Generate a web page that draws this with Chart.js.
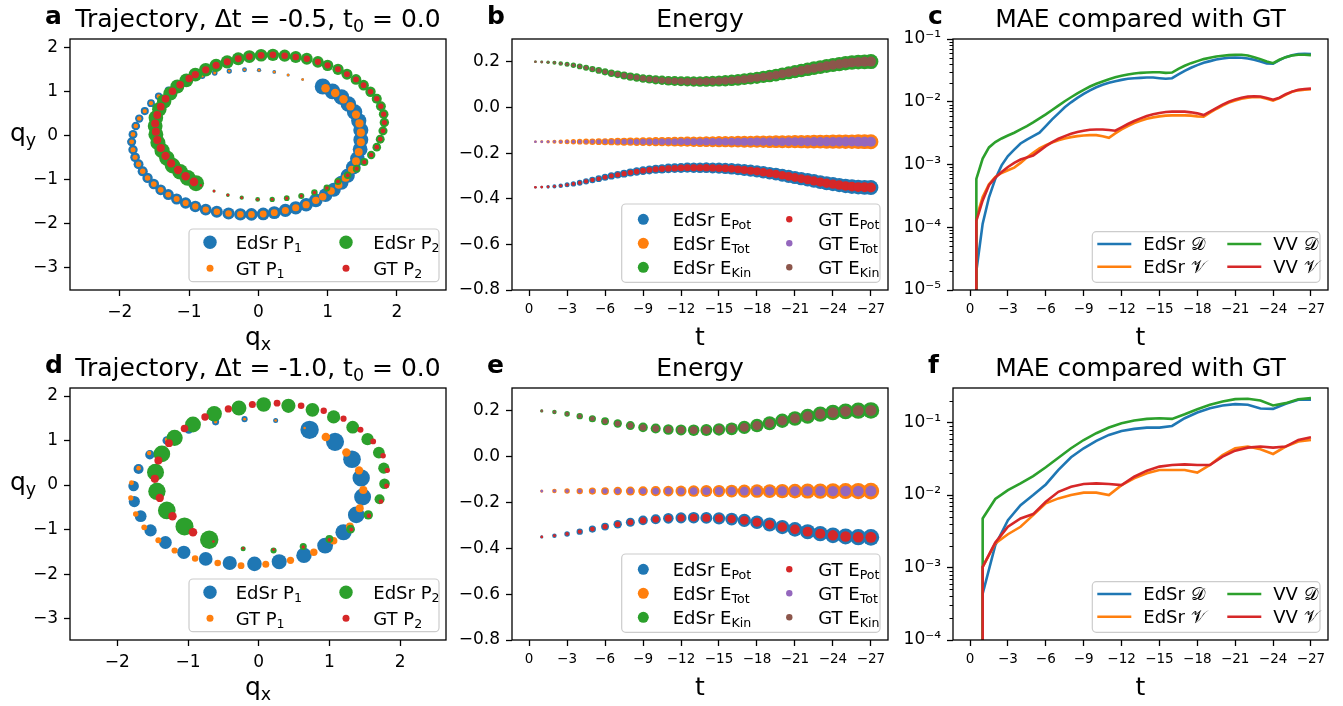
<!DOCTYPE html>
<html>
<head>
<meta charset="utf-8">
<script src="https://cdn.jsdelivr.net/npm/chart.js@4.4.1/dist/chart.umd.min.js"></script>
<style>
  html, body { margin: 0; padding: 0; background: #fff; }
  #fig { position: relative; width: 1343px; height: 706px; overflow: hidden; background: #fff; }
  .panel { position: absolute; }
</style>
</head>
<body>
<div id="fig"></div>
<script>
// ---- time steps of the two runs ----
const tHalf = [-0.5, -1, -1.5, -2, -2.5, -3, -3.5, -4, -4.5, -5, -5.5, -6, -6.5, -7, -7.5, -8, -8.5, -9, -9.5, -10,
  -10.5, -11, -11.5, -12, -12.5, -13, -13.5, -14, -14.5, -15, -15.5, -16, -16.5, -17, -17.5, -18, -18.5, -19, -19.5, -20,
  -20.5, -21, -21.5, -22, -22.5, -23, -23.5, -24, -24.5, -25, -25.5, -26, -26.5, -27];
const tWhole = [-1, -2, -3, -4, -5, -6, -7, -8, -9, -10, -11, -12, -13, -14, -15, -16, -17, -18, -19, -20,
  -21, -22, -23, -24, -25, -26, -27];

// ---- tick labels ----
const qTicksX = [-2, -1, 0, 1, 2];
const qTicksY = [2, 1, 0, -1, -2, -3];
const tTicks = [0, -3, -6, -9, -12, -15, -18, -21, -24, -27];
const energyTicks = [0.2, 0.0, -0.2, -0.4, -0.6, -0.8];
const maeTicksHalf = [1e-5, 1e-4, 1e-3, 1e-2, 1e-1];
const maeTicksWhole = [1e-4, 1e-3, 1e-2, 1e-1];

// ---- trajectories, dt = -0.5 ----
const edsrP1Half = [[0.64,1.27],[0.43,1.37],[0.23,1.44],[0.01,1.48],[-0.20,1.49],[-0.42,1.46],[-0.63,1.42],[-0.81,1.35],
  [-0.99,1.26],[-1.16,1.15],[-1.30,1.03],[-1.44,0.89],[-1.55,0.73],[-1.64,0.55],[-1.72,0.38],[-1.77,0.21],[-1.81,0.02],
  [-1.83,-0.15],[-1.81,-0.33],[-1.78,-0.50],[-1.73,-0.66],[-1.67,-0.82],[-1.60,-0.97],[-1.51,-1.11],[-1.41,-1.24],
  [-1.30,-1.35],[-1.18,-1.45],[-1.05,-1.54],[-0.91,-1.62],[-0.76,-1.69],[-0.60,-1.74],[-0.43,-1.78],[-0.26,-1.80],
  [-0.10,-1.80],[0.07,-1.79],[0.23,-1.76],[0.39,-1.71],[0.54,-1.65],[0.69,-1.58],[0.83,-1.48],[0.97,-1.36],[1.09,-1.24],
  [1.20,-1.08],[1.29,-0.92],[1.37,-0.73],[1.43,-0.53],[1.47,-0.32],[1.48,-0.10],[1.48,0.12],[1.45,0.33],[1.39,0.53],
  [1.30,0.71],[1.20,0.87],[1.07,1.00],[0.93,1.11]];
const gtP1Half = [[0.64,1.27],[0.43,1.37],[0.23,1.44],[0.01,1.48],[-0.20,1.49],[-0.42,1.46],[-0.63,1.42],[-0.81,1.35],
  [-0.99,1.26],[-1.16,1.15],[-1.30,1.03],[-1.44,0.89],[-1.55,0.73],[-1.64,0.55],[-1.72,0.38],[-1.77,0.21],[-1.81,0.02],
  [-1.83,-0.15],[-1.81,-0.33],[-1.78,-0.50],[-1.73,-0.66],[-1.67,-0.82],[-1.60,-0.97],[-1.51,-1.11],[-1.41,-1.24],
  [-1.30,-1.35],[-1.18,-1.45],[-1.05,-1.54],[-0.91,-1.62],[-0.76,-1.69],[-0.60,-1.74],[-0.43,-1.78],[-0.26,-1.80],
  [-0.10,-1.80],[0.07,-1.79],[0.23,-1.76],[0.39,-1.71],[0.54,-1.65],[0.69,-1.58],[0.83,-1.48],[0.93,-1.40],[1.05,-1.27],
  [1.16,-1.13],[1.26,-0.97],[1.35,-0.78],[1.41,-0.59],[1.45,-0.38],[1.48,-0.16],[1.48,0.06],[1.46,0.27],[1.41,0.47],
  [1.33,0.66],[1.23,0.82],[1.11,0.96],[0.97,1.07]];
const edsrP2Half = [[-0.83,-1.14],[-0.64,-1.27],[-0.44,-1.36],[-0.24,-1.42],[-0.01,-1.46],[0.20,-1.46],[0.41,-1.43],
  [0.62,-1.38],[0.81,-1.30],[0.99,-1.20],[1.15,-1.05],[1.29,-0.91],[1.42,-0.76],[1.53,-0.61],[1.63,-0.45],[1.71,-0.27],
  [1.76,-0.09],[1.80,0.10],[1.82,0.29],[1.81,0.48],[1.77,0.66],[1.71,0.83],[1.62,0.99],[1.52,1.14],[1.41,1.27],
  [1.28,1.39],[1.15,1.50],[1.00,1.59],[0.86,1.67],[0.70,1.74],[0.54,1.78],[0.38,1.81],[0.21,1.83],[0.04,1.82],
  [-0.13,1.79],[-0.29,1.74],[-0.45,1.67],[-0.61,1.59],[-0.76,1.49],[-0.91,1.38],[-1.04,1.25],[-1.17,1.11],[-1.27,0.95],
  [-1.36,0.77],[-1.43,0.59],[-1.48,0.40],[-1.49,0.21],[-1.48,0.02],[-1.45,-0.17],[-1.39,-0.35],[-1.32,-0.52],
  [-1.24,-0.69],[-1.13,-0.83],[-1.02,-0.97],[-0.90,-1.09]];
const gtP2Half = [[-0.83,-1.14],[-0.64,-1.27],[-0.44,-1.36],[-0.24,-1.42],[-0.01,-1.46],[0.20,-1.46],[0.41,-1.43],
  [0.62,-1.38],[0.81,-1.30],[0.99,-1.20],[1.15,-1.05],[1.29,-0.91],[1.42,-0.76],[1.53,-0.61],[1.63,-0.45],[1.71,-0.27],
  [1.76,-0.09],[1.80,0.10],[1.82,0.29],[1.81,0.48],[1.77,0.66],[1.71,0.83],[1.62,0.99],[1.52,1.14],[1.41,1.27],
  [1.28,1.39],[1.15,1.50],[1.00,1.59],[0.86,1.67],[0.70,1.74],[0.54,1.78],[0.38,1.81],[0.21,1.83],[0.04,1.82],
  [-0.13,1.79],[-0.29,1.74],[-0.45,1.67],[-0.61,1.59],[-0.76,1.49],[-0.91,1.38],[-1.00,1.29],[-1.13,1.15],[-1.24,1.00],
  [-1.34,0.83],[-1.41,0.65],[-1.46,0.46],[-1.49,0.27],[-1.48,0.08],[-1.46,-0.11],[-1.41,-0.29],[-1.34,-0.47],
  [-1.26,-0.64],[-1.16,-0.79],[-1.05,-0.93],[-0.93,-1.06]];

// ---- trajectories, dt = -1.0 ----
const edsrP1Whole = [[0.65,1.28],[0.24,1.45],[-0.20,1.48],[-0.61,1.42],[-0.99,1.24],[-1.30,1.00],[-1.54,0.68],
  [-1.70,0.36],[-1.77,-0.02],[-1.76,-0.37],[-1.67,-0.70],[-1.53,-1.02],[-1.32,-1.29],[-1.06,-1.51],[-0.75,-1.66],
  [-0.41,-1.75],[-0.06,-1.77],[0.29,-1.72],[0.64,-1.58],[0.94,-1.36],[1.20,-1.06],[1.38,-0.67],[1.47,-0.27],
  [1.45,0.16],[1.32,0.58],[1.08,0.97],[0.72,1.24]];
const gtP1Whole = [[0.65,1.28],[0.24,1.45],[-0.20,1.48],[-0.61,1.42],[-1.00,1.26],[-1.30,1.02],[-1.55,0.72],
  [-1.70,0.38],[-1.80,0.05],[-1.81,-0.29],[-1.74,-0.65],[-1.62,-0.95],[-1.42,-1.24],[-1.19,-1.47],[-0.90,-1.65],
  [-0.58,-1.75],[-0.25,-1.81],[0.10,-1.78],[0.45,-1.69],[0.78,-1.51],[1.06,-1.25],[1.29,-0.93],[1.43,-0.52],
  [1.48,-0.11],[1.42,0.33],[1.24,0.73],[0.95,1.08]];
const edsrP2Whole = [[-0.64,-1.27],[-0.22,-1.43],[0.21,-1.47],[0.63,-1.38],[1.00,-1.21],[1.30,-0.99],[1.55,-0.67],
  [1.71,-0.32],[1.78,0.03],[1.77,0.38],[1.70,0.73],[1.54,1.03],[1.33,1.30],[1.06,1.53],[0.76,1.69],[0.42,1.78],
  [0.07,1.81],[-0.28,1.73],[-0.63,1.60],[-0.93,1.36],[-1.19,1.06],[-1.37,0.70],[-1.46,0.29],[-1.44,-0.14],
  [-1.30,-0.57],[-1.05,-0.93],[-0.70,-1.23]];
const gtP2Whole = [[-0.64,-1.27],[-0.22,-1.42],[0.21,-1.45],[0.63,-1.39],[1.00,-1.23],[1.31,-1.00],[1.56,-0.69],
  [1.73,-0.37],[1.81,-0.02],[1.82,0.33],[1.76,0.66],[1.62,0.98],[1.44,1.24],[1.20,1.49],[0.92,1.67],[0.60,1.78],
  [0.26,1.84],[-0.09,1.81],[-0.43,1.71],[-0.76,1.53],[-1.05,1.27],[-1.27,0.94],[-1.42,0.55],[-1.47,0.14],
  [-1.40,-0.29],[-1.22,-0.70],[-0.93,-1.06]];

// ---- energies (EdSr and GT coincide at this scale) ----
const energyKinHalf = [0.200, 0.199, 0.198, 0.196, 0.193, 0.189, 0.185, 0.180, 0.174, 0.168, 0.162, 0.156, 0.150,
  0.145, 0.140, 0.135, 0.131, 0.127, 0.124, 0.121, 0.119, 0.117, 0.116, 0.115, 0.114, 0.114, 0.114, 0.114, 0.115,
  0.116, 0.117, 0.119, 0.121, 0.124, 0.127, 0.130, 0.134, 0.138, 0.142, 0.147, 0.152, 0.157, 0.162, 0.167, 0.172,
  0.177, 0.182, 0.186, 0.190, 0.194, 0.197, 0.199, 0.200, 0.201];
const energyPotHalf = [-0.350, -0.349, -0.348, -0.346, -0.343, -0.339, -0.335, -0.330, -0.324, -0.318, -0.312,
  -0.306, -0.300, -0.295, -0.290, -0.285, -0.281, -0.277, -0.274, -0.271, -0.269, -0.267, -0.266, -0.265, -0.264,
  -0.264, -0.264, -0.264, -0.265, -0.266, -0.267, -0.269, -0.271, -0.274, -0.277, -0.280, -0.284, -0.288, -0.292,
  -0.297, -0.302, -0.307, -0.312, -0.317, -0.322, -0.327, -0.332, -0.336, -0.340, -0.344, -0.347, -0.349, -0.350, -0.351];
const energyTotHalf = [-0.15, -0.15, -0.15, -0.15, -0.15, -0.15, -0.15, -0.15, -0.15, -0.15, -0.15, -0.15, -0.15,
  -0.15, -0.15, -0.15, -0.15, -0.15, -0.15, -0.15, -0.15, -0.15, -0.15, -0.15, -0.15, -0.15, -0.15, -0.15, -0.15,
  -0.15, -0.15, -0.15, -0.15, -0.15, -0.15, -0.15, -0.15, -0.15, -0.15, -0.15, -0.15, -0.15, -0.15, -0.15, -0.15,
  -0.15, -0.15, -0.15, -0.15, -0.15, -0.15, -0.15, -0.15, -0.15];
const energyKinWhole = [0.200, 0.195, 0.187, 0.177, 0.166, 0.155, 0.145, 0.136, 0.128, 0.123, 0.119, 0.117, 0.116,
  0.117, 0.119, 0.122, 0.128, 0.136, 0.146, 0.157, 0.167, 0.177, 0.186, 0.193, 0.198, 0.201, 0.202];
const energyPotWhole = [-0.350, -0.345, -0.337, -0.327, -0.316, -0.305, -0.295, -0.286, -0.278, -0.273, -0.269,
  -0.267, -0.266, -0.267, -0.269, -0.272, -0.278, -0.286, -0.296, -0.307, -0.317, -0.327, -0.336, -0.343, -0.348,
  -0.351, -0.352];
const energyTotWhole = [-0.15, -0.15, -0.15, -0.15, -0.15, -0.15, -0.15, -0.15, -0.15, -0.15, -0.15, -0.15, -0.15,
  -0.15, -0.15, -0.15, -0.15, -0.15, -0.15, -0.15, -0.15, -0.15, -0.15, -0.15, -0.15, -0.15, -0.15];

// ---- mean absolute error against ground truth, dt = -0.5 ----
const maeEdsrDHalf = [2.0e-5, 1.14e-4, 3.0e-4, 5.9e-4, 9.7e-4, 1.36e-3, 1.73e-3, 2.16e-3, 2.50e-3, 2.83e-3, 3.21e-3,
  4.10e-3, 5.24e-3, 6.53e-3, 8.15e-3, 9.79e-3, 1.15e-2, 1.33e-2, 1.52e-2, 1.70e-2, 1.86e-2, 2.00e-2, 2.12e-2, 2.23e-2,
  2.32e-2, 2.37e-2, 2.40e-2, 2.43e-2, 2.43e-2, 2.37e-2, 2.32e-2, 2.37e-2, 2.72e-2, 3.11e-2, 3.48e-2, 3.83e-2, 4.18e-2,
  4.44e-2, 4.72e-2, 4.90e-2, 5.02e-2, 5.08e-2, 5.02e-2, 4.90e-2, 4.67e-2, 4.39e-2, 4.07e-2, 4.03e-2, 4.60e-2, 5.14e-2,
  5.53e-2, 5.74e-2, 5.82e-2, 5.74e-2];
const maeEdsrVHalf = [1.41e-4, 3.03e-4, 4.83e-4, 6.32e-4, 7.33e-4, 8.09e-4, 8.93e-4, 1.06e-3, 1.29e-3, 1.53e-3,
  1.80e-3, 2.04e-3, 2.24e-3, 2.44e-3, 2.60e-3, 2.73e-3, 2.83e-3, 2.90e-3, 2.94e-3, 2.94e-3, 2.83e-3, 2.67e-3, 3.13e-3,
  3.62e-3, 4.10e-3, 4.58e-3, 4.99e-3, 5.37e-3, 5.64e-3, 5.85e-3, 6.00e-3, 6.07e-3, 6.07e-3, 6.07e-3, 6.00e-3, 5.85e-3,
  5.78e-3, 6.70e-3, 7.67e-3, 8.67e-3, 9.68e-3, 1.05e-2, 1.12e-2, 1.16e-2, 1.19e-2, 1.18e-2, 1.12e-2, 1.04e-2, 1.14e-2,
  1.29e-2, 1.44e-2, 1.52e-2, 1.56e-2, 1.58e-2];
const maeVvDHalf = [5.9e-4, 1.24e-3, 1.87e-3, 2.28e-3, 2.60e-3, 2.90e-3, 3.21e-3, 3.62e-3, 4.10e-3, 4.70e-3, 5.45e-3,
  6.31e-3, 7.40e-3, 8.67e-3, 1.02e-2, 1.18e-2, 1.36e-2, 1.55e-2, 1.75e-2, 1.93e-2, 2.10e-2, 2.29e-2, 2.46e-2, 2.59e-2,
  2.72e-2, 2.82e-2, 2.89e-2, 2.92e-2, 2.96e-2, 2.96e-2, 2.89e-2, 2.92e-2, 3.35e-2, 3.74e-2, 4.12e-2, 4.44e-2, 4.78e-2,
  5.02e-2, 5.27e-2, 5.41e-2, 5.53e-2, 5.61e-2, 5.61e-2, 5.47e-2, 5.14e-2, 4.78e-2, 4.39e-2, 4.12e-2, 4.67e-2, 5.14e-2,
  5.47e-2, 5.61e-2, 5.61e-2, 5.53e-2];
const maeVvVHalf = [1.26e-4, 2.68e-4, 4.67e-4, 6.18e-4, 7.60e-4, 9.14e-4, 1.06e-3, 1.20e-3, 1.29e-3, 1.39e-3, 1.65e-3,
  1.96e-3, 2.28e-3, 2.57e-3, 2.83e-3, 3.09e-3, 3.29e-3, 3.45e-3, 3.58e-3, 3.62e-3, 3.62e-3, 3.54e-3, 3.45e-3, 3.90e-3,
  4.42e-3, 4.93e-3, 5.43e-3, 5.93e-3, 6.30e-3, 6.62e-3, 6.87e-3, 6.95e-3, 6.95e-3, 6.95e-3, 6.78e-3, 6.53e-3, 6.14e-3,
  6.95e-3, 7.94e-3, 8.99e-3, 1.00e-2, 1.09e-2, 1.16e-2, 1.21e-2, 1.22e-2, 1.21e-2, 1.15e-2, 1.08e-2, 1.16e-2, 1.32e-2,
  1.45e-2, 1.55e-2, 1.60e-2, 1.62e-2];

// ---- mean absolute error against ground truth, dt = -1.0 ----
const maeEdsrDWhole = [4.37e-4, 2.03e-3, 4.51e-3, 7.26e-3, 1.00e-2, 1.40e-2, 2.22e-2, 3.32e-2, 4.42e-2, 5.58e-2,
  6.76e-2, 7.67e-2, 8.18e-2, 8.53e-2, 8.53e-2, 8.99e-2, 0.1148, 0.1374, 0.1578, 0.1722, 0.1795, 0.1758, 0.1563,
  0.1545, 0.1816, 0.2061, 0.2061];
const maeEdsrVWhole = [1.02e-3, 2.15e-3, 2.88e-3, 3.65e-3, 5.28e-3, 7.67e-3, 8.99e-3, 1.00e-2, 1.08e-2, 1.08e-2,
  1.00e-2, 1.37e-2, 1.70e-2, 2.00e-2, 2.22e-2, 2.22e-2, 2.22e-2, 2.04e-2, 2.60e-2, 3.57e-2, 4.42e-2, 4.67e-2, 4.29e-2,
  3.69e-2, 4.67e-2, 5.47e-2, 5.77e-2];
const maeVvDWhole = [4.76e-3, 8.81e-3, 1.17e-2, 1.45e-2, 1.83e-2, 2.42e-2, 3.28e-2, 4.42e-2, 5.75e-2, 7.13e-2,
  8.53e-2, 9.79e-2, 0.1067, 0.1125, 0.1148, 0.1125, 0.1303, 0.1531, 0.1758, 0.1954, 0.2104, 0.2128, 0.2018, 0.1722,
  0.1854, 0.2104, 0.2173];
const maeVvVWhole = [1.02e-3, 2.21e-3, 3.65e-3, 4.76e-3, 5.46e-3, 8.09e-3, 1.11e-2, 1.30e-2, 1.42e-2, 1.45e-2,
  1.42e-2, 1.37e-2, 1.79e-2, 2.17e-2, 2.47e-2, 2.60e-2, 2.65e-2, 2.60e-2, 2.60e-2, 3.39e-2, 4.10e-2, 4.51e-2, 4.67e-2,
  4.51e-2, 4.67e-2, 5.77e-2, 6.28e-2];

// error at the start of each run, far below either axis floor
const maeStart = 1e-9;

// ---- styling ----
const BLUE = '#1f77b4', ORANGE = '#ff7f0e', GREEN = '#2ca02c', RED = '#d62728', PURPLE = '#9467bd', BROWN = '#8c564b';
const FAMILY = "'DejaVu Sans', sans-serif";
const MARGIN = { l: 70, t: 40, r: 15, b: 70 };

Chart.defaults.font.family = FAMILY;
Chart.defaults.color = '#000';

const minus = v => String(v).replace('-', '\u2212');
const fixed1 = v => minus((Math.abs(v) < 1e-9 ? 0 : v).toFixed(1));
const SUP = { '-': '\u207b', '0': '\u2070', '1': '\u00b9', '2': '\u00b2', '3': '\u00b3', '4': '\u2074', '5': '\u2075' };
const logLabel = v => '10' + String(Math.round(Math.log10(v))).split('').map(c => SUP[c]).join('');

// text with sub/superscripts: parts are [text, kind], kind 0 normal, 1 sub, 2 sup
const richWidth = (ctx, parts, size, weight) => parts.reduce((w, [text, kind]) => {
  ctx.font = `${weight} ${kind ? size * 0.7 : size}px ${FAMILY}`;
  return w + ctx.measureText(text).width;
}, 0);

function drawRich(ctx, parts, x, y, size, align = 'left', weight = 'normal') {
  const w = richWidth(ctx, parts, size, weight);
  let cx = align === 'center' ? x - w / 2 : align === 'right' ? x - w : x;
  ctx.textAlign = 'left';
  ctx.textBaseline = 'alphabetic';
  ctx.fillStyle = '#000';
  for (const [text, kind] of parts) {
    ctx.font = `${weight} ${kind ? size * 0.7 : size}px ${FAMILY}`;
    const dy = kind === 1 ? size * 0.2 : kind === 2 ? -size * 0.4 : 0;
    ctx.fillText(text, cx, y + dy);
    cx += ctx.measureText(text).width;
  }
}

function roundRect(ctx, x, y, w, h, r) {
  ctx.beginPath();
  ctx.moveTo(x + r, y);
  ctx.arcTo(x + w, y, x + w, y + h, r);
  ctx.arcTo(x + w, y + h, x, y + h, r);
  ctx.arcTo(x, y + h, x, y, r);
  ctx.arcTo(x, y, x + w, y, r);
  ctx.closePath();
}

function drawLegend(ctx, area, L) {
  const x0 = area.right - L.right - L.width;
  const y0 = area.bottom - L.bottom - L.height;
  roundRect(ctx, x0, y0, L.width, L.height, 4);
  ctx.fillStyle = 'rgba(255,255,255,0.8)';
  ctx.fill();
  ctx.strokeStyle = '#cccccc';
  ctx.lineWidth = 1.2;
  ctx.stroke();
  L.items.forEach((it, k) => {
    const col = Math.floor(k / L.rows.length), row = k % L.rows.length;
    const y = y0 + L.rows[row];
    const [mx, tx] = L.cols[col];
    if (it.r) {
      ctx.beginPath();
      ctx.arc(x0 + mx, y, it.r, 0, Math.PI * 2);
      ctx.fillStyle = it.color;
      ctx.fill();
    } else {
      ctx.beginPath();
      ctx.moveTo(x0 + mx, y);
      ctx.lineTo(x0 + mx + 34, y);
      ctx.strokeStyle = it.color;
      ctx.lineWidth = 2.6;
      ctx.stroke();
    }
    drawRich(ctx, it.label, x0 + tx, y + 0.36 * L.size, L.size);
  });
}

// matplotlib-like furniture: frame, minor log ticks, legend, titles and axis labels
const figurePlugin = {
  id: 'figure',
  afterDatasetsDraw(chart, args, o) {
    const { ctx, chartArea: a } = chart;
    ctx.save();
    if (o.minorLog) {
      const ys = chart.scales.y;
      ctx.strokeStyle = '#000';
      ctx.lineWidth = 1;
      for (let d = Math.floor(Math.log10(ys.min)); d <= Math.ceil(Math.log10(ys.max)); d++) {
        for (let m = 2; m <= 9; m++) {
          const v = m * Math.pow(10, d);
          if (v < ys.min || v > ys.max) continue;
          const py = Math.round(ys.getPixelForValue(v)) + 0.5;
          ctx.beginPath();
          ctx.moveTo(a.left, py);
          ctx.lineTo(a.left - 3.5, py);
          ctx.stroke();
        }
      }
    }
    ctx.strokeStyle = '#000';
    ctx.lineWidth = 1.3;
    ctx.strokeRect(a.left, a.top, a.right - a.left, a.bottom - a.top);
    if (o.legend) drawLegend(ctx, a, o.legend);
    ctx.restore();
  },
  afterDraw(chart, args, o) {
    const { ctx, chartArea: a } = chart;
    ctx.save();
    const cx = (a.left + a.right) / 2;
    drawRich(ctx, o.title, cx, a.top - 12, 25, 'center');
    drawRich(ctx, [[o.letter, 0]], a.left - 25, a.top - 15, 25, 'left', 'bold');
    drawRich(ctx, o.xLabel, cx, a.bottom + 55, 25, 'center');
    if (o.yLabel) drawRich(ctx, o.yLabel, a.left - 60, a.top + 102, 25, 'left');
    ctx.restore();
  }
};

// pin the axis band so the plot area lands exactly on the panel rectangle
const pinBand = size => s => {
  if (s.isHorizontal()) s.height = size; else s.width = size;
  s.paddingLeft = s.paddingRight = s.paddingTop = s.paddingBottom = 0;
};

function axis({ type = 'linear', min, max, ticks, fmt, size = 17, pad = 6, reverse = false, band }) {
  return {
    type, min, max, reverse,
    afterBuildTicks: s => { s.ticks = ticks.map(v => ({ value: v })); },
    afterFit: pinBand(band),
    ticks: { callback: fmt, font: { family: FAMILY, size }, color: '#000', padding: pad, maxRotation: 0, autoSkip: false },
    grid: { display: true, drawOnChartArea: false, drawTicks: true, tickLength: 6, tickWidth: 1.3, tickColor: '#000' },
    border: { display: false }
  };
}

const growing = (rMax, n) => ctx => Math.max(1.3, rMax * Math.sqrt((ctx.dataIndex + 1) / n));

const dots = (pts, color, rMax, order) => ({
  data: pts.map(([x, y]) => ({ x, y })),
  backgroundColor: color,
  borderWidth: 0,
  pointRadius: growing(rMax, pts.length),
  pointHoverRadius: growing(rMax, pts.length),
  order
});

const timeDots = (t, vals, color, rMax, order) => dots(vals.map((v, i) => [t[i], v]), color, rMax, order);

// each error curve rises from the start value at the first step
const maeLine = (t, vals, color, order) => ({
  data: [{ x: t[0], y: maeStart }, ...vals.map((v, i) => ({ x: t[i], y: v }))],
  showLine: true,
  borderColor: color,
  backgroundColor: color,
  borderWidth: 2.6,
  pointRadius: 0,
  pointHoverRadius: 0,
  tension: 0,
  order
});

const fig = document.getElementById('fig');

function panel(rect, datasets, scales, deco) {
  const w = rect.right - rect.left + MARGIN.l + MARGIN.r;
  const h = rect.bottom - rect.top + MARGIN.t + MARGIN.b;
  const box = document.createElement('div');
  box.className = 'panel';
  box.style.left = (rect.left - MARGIN.l) + 'px';
  box.style.top = (rect.top - MARGIN.t) + 'px';
  const canvas = document.createElement('canvas');
  canvas.width = w;
  canvas.height = h;
  canvas.style.width = w + 'px';
  canvas.style.height = h + 'px';
  box.appendChild(canvas);
  fig.appendChild(box);
  return new Chart(canvas, {
    type: 'scatter',
    data: { datasets },
    options: {
      responsive: false,
      animation: false,
      devicePixelRatio: 1,
      events: [],
      layout: { padding: { left: 0, top: MARGIN.t, right: MARGIN.r, bottom: 0 } },
      scales,
      plugins: { legend: { display: false }, tooltip: { enabled: false }, figure: deco }
    },
    plugins: [figurePlugin]
  });
}

const trajLegend = {
  width: 250, height: 52.7, right: 7, bottom: 8.3, size: 18,
  cols: [[21, 46.7], [157, 184.3]], rows: [13.3, 39.3],
  items: [
    { label: [['EdSr P', 0], ['1', 1]], color: BLUE, r: 6.7 },
    { label: [['GT P', 0], ['1', 1]], color: ORANGE, r: 3.5 },
    { label: [['EdSr P', 0], ['2', 1]], color: GREEN, r: 6.7 },
    { label: [['GT P', 0], ['2', 1]], color: RED, r: 3.5 }
  ]
};
const energyLegend = {
  width: 258.3, height: 78.3, right: 8, bottom: 7.7, size: 18,
  cols: [[21.6, 51], [167.6, 196.6]], rows: [15.3, 39.3, 63.3],
  items: [
    { label: [['EdSr E', 0], ['Pot', 1]], color: BLUE, r: 5.5 },
    { label: [['EdSr E', 0], ['Tot', 1]], color: ORANGE, r: 5.5 },
    { label: [['EdSr E', 0], ['Kin', 1]], color: GREEN, r: 5.5 },
    { label: [['GT E', 0], ['Pot', 1]], color: RED, r: 3.2 },
    { label: [['GT E', 0], ['Tot', 1]], color: PURPLE, r: 3.2 },
    { label: [['GT E', 0], ['Kin', 1]], color: BROWN, r: 3.2 }
  ]
};
const maeLegend = {
  width: 227.7, height: 50.6, right: 8, bottom: 7.7, size: 18,
  cols: [[5, 51], [135, 181]], rows: [12.3, 35],
  items: [
    { label: [['EdSr ', 0], ['\u{1D49F}', 0]], color: BLUE },
    { label: [['EdSr ', 0], ['\u{1D4B1}', 0]], color: ORANGE },
    { label: [['VV ', 0], ['\u{1D49F}', 0]], color: GREEN },
    { label: [['VV ', 0], ['\u{1D4B1}', 0]], color: RED }
  ]
};

const trajTitle = dt => [['Trajectory, \u0394t = ' + dt + ', t', 0], ['0', 1], [' = 0.0', 0]];

// a: trajectory, dt = -0.5
panel({ left: 70, top: 39, right: 446, bottom: 290 }, [
  dots(edsrP1Half, BLUE, 8, 4),
  dots(gtP1Half, ORANGE, 4.3, 3),
  dots(edsrP2Half, GREEN, 8, 2),
  dots(gtP2Half, RED, 4.3, 1)
], {
  x: axis({ min: -2.72, max: 2.71, ticks: qTicksX, fmt: minus, band: MARGIN.b }),
  y: axis({ min: -3.52, max: 2.19, ticks: qTicksY, fmt: minus, band: MARGIN.l })
}, { letter: 'a', title: trajTitle('-0.5'), xLabel: [['q', 0], ['x', 1]], yLabel: [['q', 0], ['y', 1]], legend: trajLegend });

// b: energy, dt = -0.5
panel({ left: 512, top: 39, right: 888, bottom: 290 }, [
  timeDots(tHalf, energyPotHalf, BLUE, 7.5, 2),
  timeDots(tHalf, energyTotHalf, ORANGE, 7.5, 2),
  timeDots(tHalf, energyKinHalf, GREEN, 7.5, 2),
  timeDots(tHalf, energyPotHalf, RED, 5, 1),
  timeDots(tHalf, energyTotHalf, PURPLE, 5, 1),
  timeDots(tHalf, energyKinHalf, BROWN, 5, 1)
], {
  x: axis({ min: -28.35, max: 1.35, reverse: true, ticks: tTicks, fmt: minus, size: 13.5, pad: 5, band: MARGIN.b }),
  y: axis({ min: -0.8, max: 0.3, ticks: energyTicks, fmt: fixed1, band: MARGIN.l })
}, { letter: 'b', title: [['Energy', 0]], xLabel: [['t', 0]], legend: energyLegend });

// c: error, dt = -0.5
panel({ left: 953, top: 39, right: 1328, bottom: 290 }, [
  maeLine(tHalf, maeEdsrDHalf, BLUE, 4),
  maeLine(tHalf, maeEdsrVHalf, ORANGE, 3),
  maeLine(tHalf, maeVvDHalf, GREEN, 2),
  maeLine(tHalf, maeVvVHalf, RED, 1)
], {
  x: axis({ min: -28.35, max: 1.35, reverse: true, ticks: tTicks, fmt: minus, size: 13.5, pad: 5, band: MARGIN.b }),
  y: axis({ type: 'logarithmic', min: 1e-5, max: 1e-1, ticks: maeTicksHalf, fmt: logLabel, band: MARGIN.l })
}, { letter: 'c', title: [['MAE compared with GT', 0]], xLabel: [['t', 0]], legend: maeLegend, minorLog: true });

// d: trajectory, dt = -1.0
panel({ left: 70, top: 388, right: 446, bottom: 640 }, [
  dots(edsrP1Whole, BLUE, 9.2, 4),
  dots(gtP1Whole, ORANGE, 4.3, 3),
  dots(edsrP2Whole, GREEN, 9.2, 2),
  dots(gtP2Whole, RED, 4.3, 1)
], {
  x: axis({ min: -2.67, max: 2.65, ticks: qTicksX, fmt: minus, band: MARGIN.b }),
  y: axis({ min: -3.48, max: 2.18, ticks: qTicksY, fmt: minus, band: MARGIN.l })
}, { letter: 'd', title: trajTitle('-1.0'), xLabel: [['q', 0], ['x', 1]], yLabel: [['q', 0], ['y', 1]], legend: trajLegend });

// e: energy, dt = -1.0
panel({ left: 512, top: 388, right: 888, bottom: 640 }, [
  timeDots(tWhole, energyPotWhole, BLUE, 8.3, 2),
  timeDots(tWhole, energyTotWhole, ORANGE, 8.3, 2),
  timeDots(tWhole, energyKinWhole, GREEN, 8.3, 2),
  timeDots(tWhole, energyPotWhole, RED, 5.5, 1),
  timeDots(tWhole, energyTotWhole, PURPLE, 5.5, 1),
  timeDots(tWhole, energyKinWhole, BROWN, 5.5, 1)
], {
  x: axis({ min: -28.35, max: 1.35, reverse: true, ticks: tTicks, fmt: minus, size: 13.5, pad: 5, band: MARGIN.b }),
  y: axis({ min: -0.8, max: 0.3, ticks: energyTicks, fmt: fixed1, band: MARGIN.l })
}, { letter: 'e', title: [['Energy', 0]], xLabel: [['t', 0]], legend: energyLegend });

// f: error, dt = -1.0
panel({ left: 953, top: 388, right: 1328, bottom: 640 }, [
  maeLine(tWhole, maeEdsrDWhole, BLUE, 4),
  maeLine(tWhole, maeEdsrVWhole, ORANGE, 3),
  maeLine(tWhole, maeVvDWhole, GREEN, 2),
  maeLine(tWhole, maeVvVWhole, RED, 1)
], {
  x: axis({ min: -28.35, max: 1.35, reverse: true, ticks: tTicks, fmt: minus, size: 13.5, pad: 5, band: MARGIN.b }),
  y: axis({ type: 'logarithmic', min: 1e-4, max: 0.3, ticks: maeTicksWhole, fmt: logLabel, band: MARGIN.l })
}, { letter: 'f', title: [['MAE compared with GT', 0]], xLabel: [['t', 0]], legend: maeLegend, minorLog: true });
</script>
</body>
</html>
